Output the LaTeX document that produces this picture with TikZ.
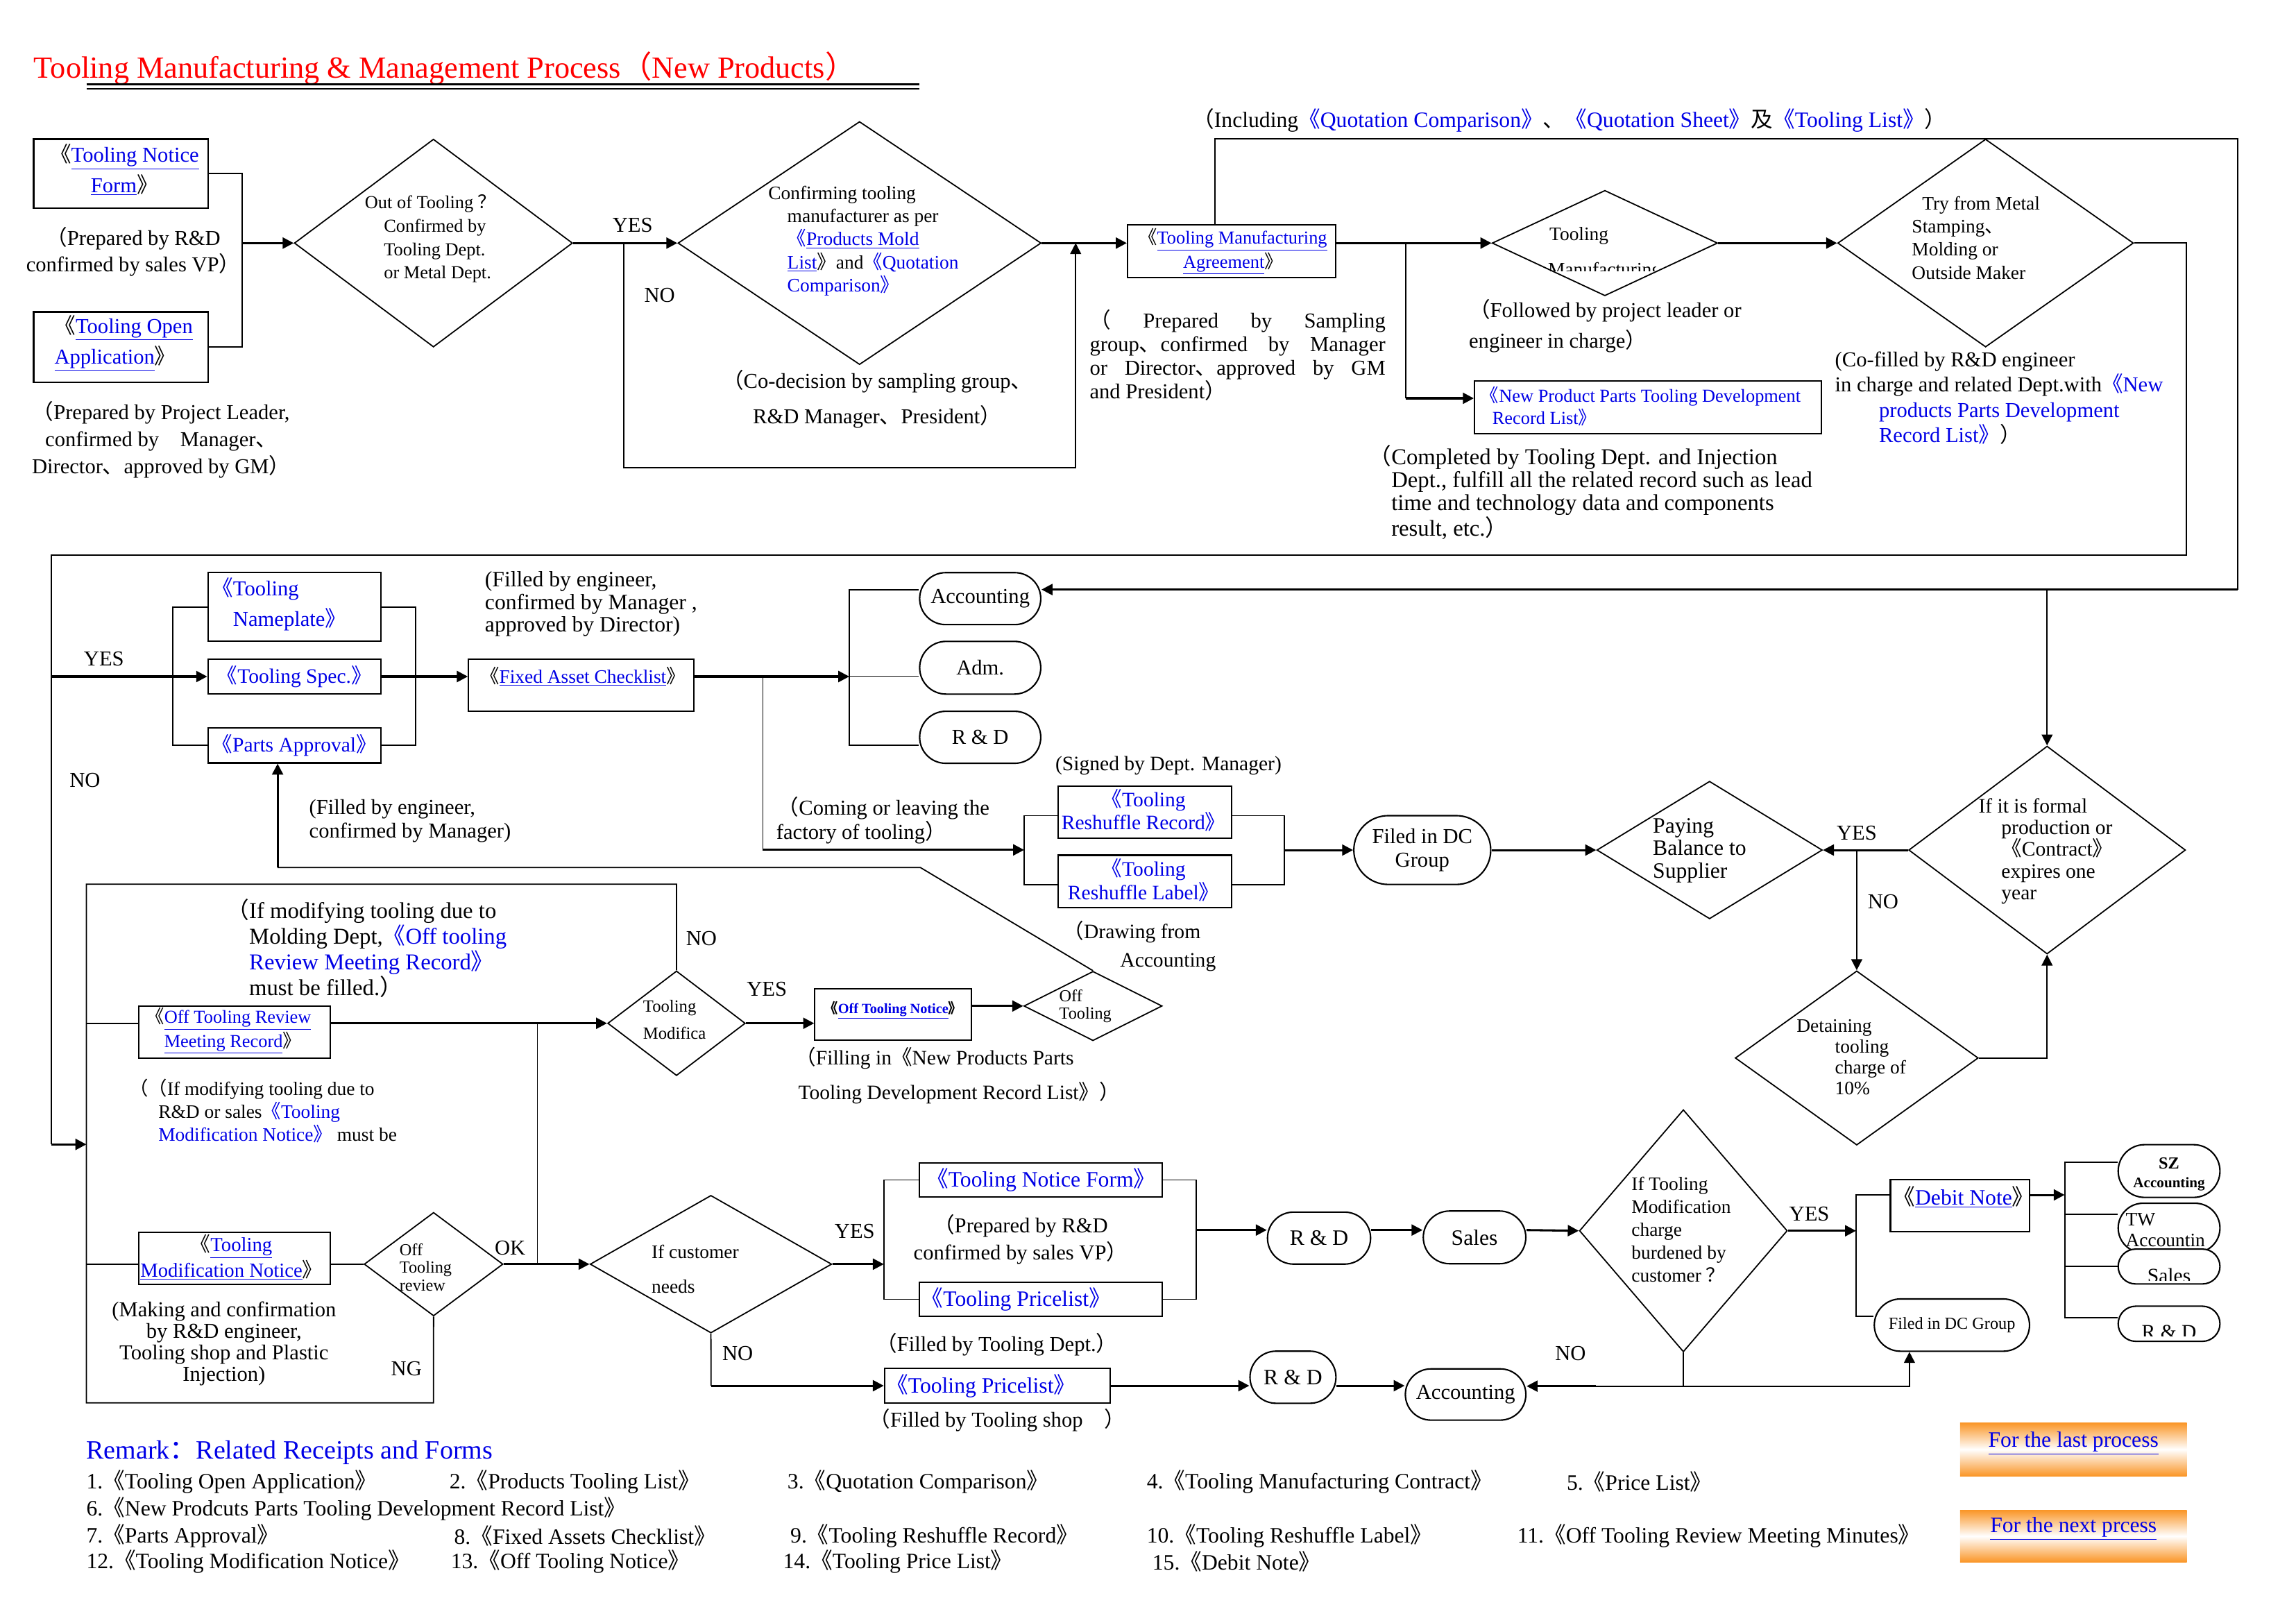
\documentclass[tikz,border=0pt]{standalone}
\usepackage{fontspec}
\setmainfont{Liberation Serif}
\newfontfamily\cjk{Noto Sans CJK SC}
\usetikzlibrary{shapes.geometric,shapes.misc,arrows.meta}
\definecolor{lnk}{RGB}{0,0,230}
\definecolor{orng}{RGB}{250,150,40}
\newcommand\fsz[2]{\fontsize{#1}{#2}\selectfont}
\newcommand\zlb{{\cjk 《}}
\newcommand\zrb{{\cjk 》}}
\newcommand\zlp{{\cjk （}}
\newcommand\zrp{{\cjk ）}}
\newcommand\zdun{{\cjk 、}}
\newcommand\zji{{\cjk 及}}
\newcommand\zcol{{\cjk ：}}
\newcommand\zqm{{\cjk ？}}
\newcommand\kbl[1]{{\color{black}#1}}
\newcommand\bl[1]{{\color{lnk}#1}}
\begin{document}
\begin{tikzpicture}[x=1pt,y=-1pt,
  thn/.style={line width=0.85pt},
  thk/.style={line width=1.45pt},
  arr/.style={-{Triangle[length=7.5pt,width=7.5pt]}},
  box/.style={draw,line width=1pt,inner sep=0pt,fill=white},
  term/.style={draw,rounded rectangle,line width=1pt,inner sep=0pt,fill=white,align=center},
  dia/.style={draw,diamond,line width=0.85pt,inner sep=0pt},
  tx/.style={inner sep=0pt,align=left,anchor=west},
  tc/.style={inner sep=0pt,align=center},
  blu/.style={text=lnk},
  lbl/.style={inner sep=0pt,font={\fsz{14.5}{17}}}]
\useasboundingbox (0,0) rectangle (1568,1108);
\fill[white] (0,0) rectangle (1568,1108);

% ---------- title ----------
\node[anchor=base west,inner sep=0pt,text=red,font={\fsz{21}{24}}] (title) at (23,53.5) {Tooling Manufacturing \& Management Process\zlp New Products\zrp};
\draw[line width=1.5pt] (59,57.7) -- (628,57.7);
\draw[line width=0.8pt] (59,60.6) -- (628,60.6);

% ---------- top row ----------
\node[box,minimum width=119pt,minimum height=47pt] (tnf) at (82.5,118.5) {};
\node[tc,blu,font={\fsz{14.5}{20.5}}] (tnft) at (85,116) {\kbl{\zlb}\underline{Tooling Notice}\\\underline{Form}\kbl{\zrb}};
\node[box,minimum width=119pt,minimum height=48pt] (toa) at (82.5,237) {};
\node[tx,blu,font={\fsz{14.5}{21}}] (toat) at (37,234.4) {\kbl{\zlb}\underline{Tooling Open}\\\underline{Application}\kbl{\zrb}};
\node[tc,font={\fsz{14.5}{18}}] (prep1) at (91,172) {\zlp Prepared by R\&D\\confirmed by sales VP\zrp};
\node[tc,font={\fsz{14.5}{18.5}}] (prep2) at (110,300.2) {\zlp Prepared by Project Leader,\\confirmed by\quad Manager\zdun\\Director\zdun approved by GM\zrp};

\node[dia,minimum width=190pt,minimum height=142pt] (d1) at (296,166) {};
\node[tx,font={\fsz{12.5}{16}}] (d1t) at (249,163) {Out of Tooling \zqm\\\hspace*{13pt}Confirmed by\\\hspace*{13pt}Tooling Dept.\\\hspace*{13pt}or Metal Dept.};
\coordinate (j1) at (165.5,166);
\draw[thn] (tnf.east) -- (165.5,118.5) -- (165.5,237) -- (toa.east);
\draw[thk,arr] (j1) -- (d1.west);

\node[dia,minimum width=248pt,minimum height=166pt] (d2) at (587,166) {};
\node[tx,font={\fsz{13}{15.7}}] (d2t) at (524.5,164.5) {Confirming tooling\\\hspace*{13pt}manufacturer as per\\\hspace*{13pt}\bl{\zlb\underline{Products Mold}}\\\hspace*{13pt}\bl{\underline{List}}\zrb and\bl{\zlb Quotation}\\\hspace*{13pt}\bl{Comparison\zrb}};
\draw[thk,arr] (d1.east) -- (d2.west);
\node[lbl] (yes1) at (432,154) {YES};
\node[lbl] (no1) at (450.5,201.5) {NO};
\coordinate (n1) at (426,166);
\coordinate (n1b) at (734.6,166);
\draw[thn,arr] (n1) -- (426,319.5) -| (n1b);
\node[tc,font={\fsz{14.5}{24}}] (codec) at (599,272.7) {\zlp Co-decision by sampling group\zdun\\R\&D Manager\zdun President\zrp};

\node[box,minimum width=142pt,minimum height=36pt] (tma) at (841,171.5) {};
\node[tc,blu,font={\fsz{12.5}{16.5}}] (tmat) at (842,171.8) {\kbl{\zlb}\underline{Tooling Manufacturing}\\\underline{Agreement}\kbl{\zrb}};
\draw[thk,arr] (d2.east) -- (d2.east -| tma.west);
\node[tx,font={\fsz{15}{17}}] (incl) at (814,82.3) {\zlp Including\bl{\zlb Quotation Comparison\zrb}\zdun\bl{\zlb Quotation Sheet\zrb}\zji\bl{\zlb Tooling List\zrb}\zrp};

\coordinate (tmatop) at (829.7,153.5);
\coordinate (tr) at (1528,94.7);
\coordinate (bus1) at (1528,402.6);
\coordinate (b2) at (1398,402.6);

\node[dia,minimum width=154pt,minimum height=72pt] (d3) at (1096,166) {};
\node[tx,font={\fsz{13}{15}}] (d3t) at (1058,161) {Tooling};
\begin{scope}
\clip (1040,170) rectangle (1131,185);
\node[tx,font={\fsz{13}{15}}] (d3t2) at (1057,185) {Manufacturing};
\end{scope}
\draw[thk,arr] (tma.east |- d3.west) -- (d3.west);

\node[dia,minimum width=202pt,minimum height=142pt] (d4) at (1356,166) {};
\node[tx,font={\fsz{13}{15.8}}] (d4t) at (1305.5,162.3) {\hspace*{7pt}Try from Metal\\Stamping\zdun\\Molding or\\Outside Maker};
\draw[thk,arr] (d3.east) -- (d4.west);

\node[tx,font={\fsz{14.5}{21}}] (foll) at (1003,222.5) {\zlp Followed by project leader or\\engineer in charge\zrp};

\node[box,minimum width=237pt,minimum height=36pt] (npp) at (1125.5,278) {};
\node[tx,blu,font={\fsz{12.5}{15.2}}] (nppt) at (1011,277.4) {\zlb New Product Parts Tooling Development\\\hspace*{8pt}Record List\zrb};
\coordinate (br1) at (960,166);
\coordinate (br1b) at (960,272);
\draw[thn] (br1) -- (br1b);
\draw[thk,arr] (br1b) -- (br1b -| npp.west);

\node[tx,font={\fsz{15.5}{15.7}}] (compl) at (950,336.2) {\llap{\zlp}Completed by Tooling Dept. and Injection\\Dept., fulfill all the related record such as lead\\time and technology data and components\\result, etc.\zrp};
\node[inner sep=0pt,anchor=north west,text width=202pt,align=justify,font={\fsz{14.5}{16}}] (samp) at (744,211.5) {\zlp\ Prepared by Sampling\linebreak group\zdun confirmed by Manager\linebreak or Director\zdun approved by GM\linebreak and President\zrp};
\node[tx,font={\fsz{14.5}{17.2}}] (cofill) at (1253,271.8) {(Co-filled by R\&D engineer\\in charge and related Dept.with\bl{\zlb New}\\\hspace*{30pt}\bl{products Parts Development}\\\hspace*{30pt}\bl{Record List\zrb}\zrp};

% loop around
\coordinate (lp1) at (1493,379);
\coordinate (lp2) at (35,379);
\coordinate (lp3) at (35,781.5);
\coordinate (frm) at (59,781.5);
\draw[line width=1pt] (d4.east) -| (lp1) -- (lp2) -- (lp3);
\draw[thk,arr] (lp3) -- (frm);

% ---------- second row ----------
\node[box,minimum width=118pt,minimum height=47pt] (np) at (201,414.5) {};
\node[tx,blu,font={\fsz{14.5}{21}}] (npt) at (159,412.5) {\llap{\zlb}Tooling\\Nameplate\zrb};
\node[box,minimum width=118pt,minimum height=24pt,text=lnk,font={\fsz{14}{16}}] (ts) at (201,462) {\zlb Tooling Spec.\zrb};
\node[box,minimum width=118pt,minimum height=24pt,text=lnk,font={\fsz{14}{16}}] (pa) at (201,509) {\zlb Parts Approval\zrb};
\draw[thn] (np.west) -- (118,414.5) -- (118,509) -- (pa.west);
\draw[thn] (np.east) -- (284,414.5) -- (284,509) -- (pa.east);
\coordinate (ybr) at (35,462);
\draw[thk,arr] (ybr) -- (ts.west);
\node[lbl] (yes2) at (71,450) {YES};
\node[lbl] (no2) at (58,533) {NO};

\node[box,minimum width=154pt,minimum height=35.6pt] (fa) at (397,467.8) {};
\node[tc,blu,font={\fsz{13}{15}}] (fat) at (398,462) {\kbl{\zlb}\underline{Fixed Asset Checklist}\kbl{\zrb}};
\draw[thk,arr] (ts.east) -- (ts.east -| fa.west);
\node[tx,font={\fsz{15}{15.5}}] (filled1) at (331,412.5) {(Filled by engineer,\\confirmed by Manager ,\\approved by Director)};

\node[term,minimum width=82.7pt,minimum height=35.5pt,font={\fsz{14.5}{17}}] (acc1) at (669.4,408.8) {Accounting};
\node[term,minimum width=82.7pt,minimum height=36pt,font={\fsz{14.5}{17}}] (adm) at (669.4,456) {Adm.};
\node[term,minimum width=82.7pt,minimum height=35.5pt,font={\fsz{14.5}{17}}] (rd1) at (669.4,503.5) {R \& D};
\coordinate (ya) at (0,402.6);
\coordinate (yb) at (0,461.8);
\coordinate (yc) at (0,509);
\coordinate (b3) at (580,462);
\draw[thk,arr] (fa.east |- b3) -- (b3);
\draw[thn] (acc1.west |- ya) -- (580,402.6) -- (580,509) -- (rd1.west |- yc);
\draw[thn] (580,461.8) -- (adm.west |- yb);
\draw[thn] (tmatop) -- (829.7,94.7) -- (tr) -- (bus1);
\draw[thk,arr] (bus1) -- (acc1.east |- bus1);

\coordinate (b4) at (521,462);
\coordinate (b4b) at (521,580.4);
\coordinate (b5) at (699.4,580.4);
\draw[thn] (b4) -- (b4b);
\draw[thk,arr] (b4b) -- (b5);
\node[tx,font={\fsz{14.5}{15.3}}] (coming) at (530,560.4) {\hspace*{15.4pt}\llap{\zlp}Coming or leaving the\\factory of tooling\zrp};

\node[box,minimum width=118.4pt,minimum height=35.5pt] (rr) at (781.8,554.8) {};
\node[tc,blu,font={\fsz{14}{15.5}}] (rrt) at (781,553.3) {\zlb Tooling\\Reshuffle Record\zrb};
\node[box,minimum width=118.4pt,minimum height=36pt] (rl) at (781.8,602) {};
\node[tc,blu,font={\fsz{14}{16}}] (rlt) at (781,600.9) {\zlb Tooling\\Reshuffle Label\zrb};
\coordinate (y557) at (0,557);
\coordinate (y604) at (0,604);
\draw[thn] (rr.west |- y557) -- (699.4,557) -- (699.4,604) -- (rl.west |- y604);
\draw[thn] (rr.east |- y557) -- (877,557) -- (877,604) -- (rl.east |- y604);
\node[tx,font={\fsz{14}{16}}] (signed) at (720.6,522.8) {(Signed by Dept. Manager)};
\node[tx,font={\fsz{14}{19.4}}] (drawing) at (726,646.3) {\zlp Drawing from\\\hspace*{38.8pt}Accounting};

\node[term,minimum width=93.5pt,minimum height=47pt,font={\fsz{14.5}{16}}] (fdc) at (971.3,580.5) {Filed in DC\\Group};
\coordinate (b6r) at (877,580.5);
\draw[thk,arr] (b6r) -- (fdc.west);

\node[dia,minimum width=154pt,minimum height=94pt] (d5) at (1167.5,580.5) {};
\node[tx,font={\fsz{15}{15.3}}] (d5t) at (1128.6,580.8) {Paying\\Balance to\\Supplier};
\draw[thk,arr] (fdc.east) -- (d5.west);

\node[dia,minimum width=189pt,minimum height=142pt] (d6) at (1398,580.5) {};
\node[tx,font={\fsz{14}{14.85}}] (d6t) at (1351,581.3) {If it is formal\\\hspace*{15.6pt}production or\\\hspace*{15.6pt}\zlb Contract\zrb\\\hspace*{15.6pt}expires one\\\hspace*{15.6pt}year};
\draw[thk,arr] (d6.west) -- (d5.east);
\draw[thn,arr] (b2) -- (d6.north);
\node[lbl] (yes3) at (1268,569) {YES};
\node[lbl] (no3) at (1286,616) {NO};

\node[dia,minimum width=166pt,minimum height=119pt] (d7) at (1268,722.5) {};
\node[tx,font={\fsz{13}{14.1}}] (d7t) at (1226.8,721.9) {Detaining\\\hspace*{26.2pt}tooling\\\hspace*{26.2pt}charge of\\\hspace*{26.2pt}10\%};
\coordinate (n6) at (1268,580.5);
\draw[thn,arr] (n6) -- (d7.north);
\draw[thn,arr] (d7.east) -| (d6.south);

\node[tx,font={\fsz{14.5}{16}}] (filled2) at (211,560.5) {(Filled by engineer,\\confirmed by Manager)};

% ---------- third row ----------
\node[dia,minimum width=94pt,minimum height=71.5pt] (d8) at (462,698.8) {};
\node[tx,font={\fsz{11.7}{18.6}}] (d8t) at (439,696.3) {Tooling\\Modifica};
\coordinate (f1) at (59,603.8);
\coordinate (f2) at (462,603.8);
\coordinate (f3) at (59,958);
\coordinate (f4) at (296,958);
\node[lbl] (no4) at (479,641) {NO};

\node[box,minimum width=130.6pt,minimum height=35.5pt] (otr) at (160.1,704.8) {};
\node[tx,blu,font={\fsz{12.5}{15.2}}] (otrt) at (112,704) {\llap{\kbl{\zlb}}\underline{Off Tooling Review}\\\underline{Meeting Record}\kbl{\zrb}};
\coordinate (s1) at (59,698.8);
\draw[thn] (s1) -- (s1 -| otr.west);
\draw[thk,arr] (s1 -| otr.east) -- (d8.west);

\node[tx,font={\fsz{15.5}{15.7}}] (ifmod1) at (170,647.5) {\llap{\zlp}If modifying tooling due to\\Molding Dept,\bl{\zlb Off tooling}\\\bl{Review Meeting Record\zrb}\\must be filled.\zrp};
\node[tx,font={\fsz{13}{15.6}}] (ifmod2) at (108,758.7) {\hspace*{6pt}\llap{\zlp\zlp}If modifying tooling due to\\R\&D or sales\bl{\zlb Tooling}\\\bl{Modification Notice\zrb} must be};

\node[box,minimum width=107pt,minimum height=35pt] (otn) at (610,692.9) {};
\node[tc,blu,font={\bfseries\fsz{9.6}{11}}] (otnt) at (610,690) {\kbl{\zlb}\underline{Off Tooling Notice}\kbl{\zrb}};
\draw[thk,arr] (d8.east) -- (d8.east -| otn.west);
\node[lbl] (yes4) at (523.7,675.4) {YES};

\node[dia,minimum width=94.4pt,minimum height=47.4pt] (d9) at (746.4,687) {};
\node[tx,font={\fsz{11.5}{12}}] (d9t) at (723.2,687) {Off\\Tooling};
\draw[thk,arr] (otn.east |- d9.west) -- (d9.west);
\node[tx,font={\fsz{14}{23.7}}] (filling) at (545,734.4) {\hspace*{12pt}\llap{\zlp}Filling in\zlb New Products Parts\\Tooling Development Record List\zrb\zrp};

\coordinate (pa1) at (189.6,592.4);
\coordinate (pa2) at (628.5,592.4);
\draw[thk,arr] (pa1) -- (pa1 |- pa.south);
\draw[thn] (pa1) -- (pa2) -- (d9.north);

\node[box,minimum width=130.6pt,minimum height=35.8pt] (tmn) at (160.1,859.4) {};
\node[tc,blu,font={\fsz{13.6}{15.7}}] (tmnt) at (158,858.5) {\kbl{\zlb}\underline{Tooling}\\\underline{Modification Notice}\kbl{\zrb}};
\node[dia,minimum width=94.8pt,minimum height=70.7pt] (d10) at (296.1,863.3) {};
\node[tx,font={\fsz{11.5}{11.9}}] (d10t) at (272.7,865.5) {Off\\Tooling\\review};
\coordinate (s2) at (59,863.3);
\draw[thn] (s2) -- (s2 -| tmn.west);
\draw[thn] (s2 -| tmn.east) -- (d10.west);
\draw[thn] (d8.north) -- (f2) -- (f1) -- (f3) -- (f4) -- (d10.south);
\node[lbl] (ng) at (277.6,934.6) {NG};
\node[lbl] (ok) at (348.4,852) {OK};
\node[tc,font={\fsz{14.5}{14.7}}] (making) at (153,917.8) {(Making and confirmation\\by R\&D engineer,\\Tooling shop and Plastic\\Injection)};

\node[dia,minimum width=165pt,minimum height=94pt] (d11) at (485.5,863.3) {};
\node[tx,font={\fsz{13}{23.7}}] (d11t) at (444.8,866.6) {If customer\\needs};
\draw[thk,arr] (d10.east) -- (d11.west);
\coordinate (ok1) at (367,698.8);
\coordinate (ok2) at (367,863.3);
\draw[thn] (ok1) -- (ok2);
\node[lbl] (yes5) at (583.7,841) {YES};
\node[lbl] (no5) at (503.8,924.4) {NO};

\node[box,minimum width=165.7pt,minimum height=23.6pt,text=lnk,font={\fsz{15}{17}}] (tnf2) at (710.9,805.8) {\zlb Tooling Notice Form\zrb};
\node[box,minimum width=165.7pt,minimum height=23.5pt] (tpl1) at (710.9,887.3) {};
\node[tx,blu,font={\fsz{15}{17}}] (tpl1t) at (629,887.3) {\zlb Tooling Pricelist\zrb};
\coordinate (b6) at (603.6,863.3);
\draw[thk,arr] (d11.east) -- (b6);
\draw[thn] (tnf2.west) -- (603.6,805.8) -- (603.6,887.3) -- (tpl1.west);
\draw[thn] (tnf2.east) -- (817,805.8) -- (817,887.3) -- (tpl1.east);
\node[tc,font={\fsz{14.5}{18.2}}] (prep3) at (697,846.4) {\zlp Prepared by R\&D\\confirmed by sales VP\zrp};

\coordinate (y840) at (0,840);
\coordinate (b7a) at (817,840);
\node[term,minimum width=70.4pt,minimum height=35.5pt,font={\fsz{15}{17}}] (rd2) at (900.8,845.5) {R \& D};
\node[term,minimum width=70pt,minimum height=36pt,font={\fsz{15}{17}}] (sa2) at (1007,845) {Sales};
\draw[thk,arr] (b7a) -- (rd2.west |- y840);
\draw[thk,arr] (rd2.east |- y840) -- (sa2.west |- y840);

\node[dia,minimum width=142pt,minimum height=165.4pt] (d12) at (1149.6,840.5) {};
\node[tx,font={\fsz{13}{15.7}}] (d12t) at (1114,839.6) {If Tooling\\Modification\\charge\\burdened by\\customer \zqm};
\draw[thk,arr] (sa2.east |- y840) -- (d12.west);

\node[tc,font={\fsz{14.5}{17}}] (filld) at (680.6,918.4) {\zlp Filled by Tooling Dept.\zrp};
\node[tc,font={\fsz{14.5}{17}}] (fills) at (681,969.7) {\zlp Filled by Tooling shop\quad\zrp};

\node[box,minimum width=154.3pt,minimum height=24pt] (tpl2) at (681.2,946.3) {};
\node[tx,blu,font={\fsz{15}{17}}] (tpl2t) at (605,946.3) {\zlb Tooling Pricelist\zrb};
\coordinate (n11) at (485.6,946.3);
\draw[thn] (d11.south) -- (n11);
\draw[thk,arr] (n11) -- (tpl2.west);
\node[term,minimum width=58.7pt,minimum height=35.6pt,font={\fsz{15}{17}}] (rd3) at (883,940.5) {R \& D};
\node[term,minimum width=82.3pt,minimum height=35pt,font={\fsz{14.5}{17}}] (acc2) at (1000.9,952.3) {Accounting};
\draw[thk,arr] (tpl2.east) -- (rd3.west |- tpl2.east);
\draw[thk,arr] (rd3.east |- tpl2.east) -- (acc2.west |- tpl2.east);

\node[box,minimum width=95pt,minimum height=35.5pt] (dn) at (1338.5,823.3) {};
\node[tc,blu,font={\fsz{15}{17}}] (dnt) at (1341,817.5) {\kbl{\zlb}\underline{Debit Note}\kbl{\zrb}};
\node[term,minimum width=106pt,minimum height=35.7pt,font={\fsz{11.5}{13}}] (fdc2) at (1333,904.9) {Filed in DC Group};
\coordinate (b7) at (1267.5,840.5);
\draw[thk,arr] (d12.east) -- (b7);
\coordinate (y816) at (0,816);
\coordinate (y899) at (0,899);
\draw[thn] (dn.west |- y816) -- (1267.5,816) -- (1267.5,899) -- (fdc2.west |- y899);
\node[lbl] (yes6) at (1235.6,829) {YES};

\coordinate (n12) at (1149.6,946.6);
\coordinate (n12a) at (1304,946.6);
\coordinate (n12b) at (1090,946.6);
\draw[thn] (d12.south) -- (n12);
\draw[thn,arr] (n12b) -- (n12a) -- (n12a |- fdc2.south);
\draw[thk,arr] (n12b) -- (acc2.east |- n12b);
\node[lbl] (no6) at (1072.5,924.4) {NO};

\node[term,minimum width=69.5pt,minimum height=36pt] (sz) at (1481.3,799.7) {};
\node[tc,font={\bfseries\fsz{11.5}{12}}] (szt) at (1481.3,794.3) {SZ};
\node[tc,font={\bfseries\fsz{10}{11}}] (szt2) at (1481.3,808.4) {Accounting};
\node[term,minimum width=69.5pt,minimum height=33.8pt] (tw) at (1481.3,838.6) {};
\node[tx,font={\fsz{13}{14}}] (twt) at (1451.5,840) {TW\\Accountin};
\node[term,minimum width=69.5pt,minimum height=23.8pt] (sa3) at (1481.3,864.9) {};
\begin{scope}
\clip (1440,853) rectangle (1520,874.6);
\node[anchor=base,inner sep=0pt,font={\fsz{14}{15}}] (sa3t) at (1481.3,876) {Sales};
\end{scope}
\node[term,minimum width=69.5pt,minimum height=24pt] (rd4) at (1481.3,904) {};
\begin{scope}
\clip (1440,892) rectangle (1520,912.3);
\node[anchor=base,inner sep=0pt,font={\fsz{14}{15}}] (rd4t) at (1481.3,914.5) {R \& D};
\end{scope}
\coordinate (b8) at (1410,816);
\draw[thk,arr] (dn.east |- y816) -- (b8);
\coordinate (y793) at (0,793.8);
\coordinate (y829) at (0,829.4);
\coordinate (y865) at (0,864.7);
\coordinate (y900) at (0,900);
\draw[thn] (sz.west |- y793) -- (1410,793.8) -- (1410,900) -- (rd4.west |- y900);
\draw[thn] (1410,829.4) -- (tw.west |- y829);
\draw[thn] (1410,864.7) -- (sa3.west |- y865);

% ---------- remarks ----------
\node[tx,blu,font={\fsz{18}{20}}] (rem) at (58.8,992) {Remark\zcol Related Receipts and Forms};
\begin{scope}[every node/.style={tx,font={\fsz{15}{17}}}]
\node (r1) at (58.8,1011.8) {1.\zlb Tooling Open Application\zrb};
\node (r2) at (306.8,1011.8) {2.\zlb Products Tooling List\zrb};
\node (r3) at (537.6,1011.8) {3.\zlb Quotation Comparison\zrb};
\node (r4) at (783,1011.8) {4.\zlb Tooling Manufacturing Contract\zrb};
\node (r5) at (1069.8,1011.8) {5.\zlb Price List\zrb};
\node (r6) at (58.8,1030.3) {6.\zlb New Prodcuts Parts Tooling Development Record List\zrb};
\node (r7) at (58.8,1049) {7.\zlb Parts Approval\zrb};
\node (r8) at (310,1049) {8.\zlb Fixed Assets Checklist\zrb};
\node (r9) at (539.6,1049) {9.\zlb Tooling Reshuffle Record\zrb};
\node (r10) at (783,1049) {10.\zlb Tooling Reshuffle Label\zrb};
\node (r11) at (1036,1049) {11.\zlb Off Tooling Review Meeting Minutes\zrb};
\node (r12) at (58.8,1066.4) {12.\zlb Tooling Modification Notice\zrb};
\node (r13) at (307.7,1066.4) {13.\zlb Off Tooling Notice\zrb};
\node (r14) at (534.6,1066.4) {14.\zlb Tooling Price List\zrb};
\node (r15) at (786.8,1066.4) {15.\zlb Debit Note\zrb};
\end{scope}

\node[inner sep=0pt,minimum width=154.8pt,minimum height=36.3pt,top color=orng,bottom color=orng,middle color=white] (last) at (1416,989.8) {};
\node[tc,blu,font={\fsz{15}{17}}] (lastt) at (1416,985.8) {\underline{For the last process}};
\node[inner sep=0pt,minimum width=154.8pt,minimum height=35.4pt,top color=orng,bottom color=orng,middle color=white] (next) at (1416,1049) {};
\node[tc,blu,font={\fsz{15}{17}}] (nextt) at (1416,1044) {\underline{For the next prcess}};
\end{tikzpicture}
\end{document}
